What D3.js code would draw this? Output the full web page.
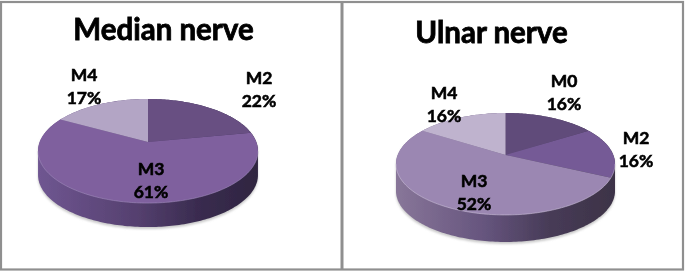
<!DOCTYPE html>
<html>
<head>
<meta charset="utf-8">
<script src="https://cdn.jsdelivr.net/npm/d3@7"></script>
<style>
  html, body { margin: 0; padding: 0; background: #fff; }
  text { font-family: Lato, sans-serif; font-weight: 700; fill: #000; stroke: #000; text-anchor: middle; }
</style>
</head>
<body>
<div id="chart"></div>
<script>
// Data
var medianCategories = ["M2", "M3", "M4"];
var medianValues = [22, 61, 17];
var ulnarCategories = ["M0", "M2", "M3", "M4"];
var ulnarValues = [16, 16, 52, 16];

// Colours
var medianColors = ["#674f82", "#7f609e", "#b3a5c5"];
var ulnarColors = ["#604b7a", "#745a96", "#9b87b2", "#bfb3ce"];

// Label centres
var medianLabelPos = [[259, 89], [151, 180], [84, 86]];
var ulnarLabelPos = [[564, 92], [636, 149], [474, 192], [444, 104]];

var svg = d3.select("#chart").append("svg")
    .attr("width", 685)
    .attr("height", 271)
    .style("display", "block");

var defs = svg.append("defs");

defs.append("filter").attr("id", "soft")
    .append("feGaussianBlur").attr("stdDeviation", 0.45);
defs.append("filter").attr("id", "softer")
    .append("feGaussianBlur").attr("stdDeviation", 1.2);

function sideGradient(id, stops) {
    var g = defs.append("linearGradient").attr("id", id);
    stops.forEach(function (s) {
        g.append("stop").attr("offset", s[0]).attr("stop-color", s[1]);
    });
}
sideGradient("sideMedian", [[0, "#6f5691"], [0.45, "#55406f"], [0.72, "#3a2c50"], [1, "#2f2540"]]);
sideGradient("sideUlnar", [[0, "#887699"], [0.4, "#66557e"], [0.7, "#473b57"], [1, "#3d3347"]]);

// Frame
var frame = svg.append("g").attr("fill", "none").attr("stroke", "#8f8f8f");
frame.append("rect").attr("x", 1).attr("y", 2).attr("width", 682).attr("height", 267.5).attr("stroke-width", 2.2);
frame.append("line").attr("x1", 342).attr("x2", 342).attr("y1", 2).attr("y2", 269).attr("stroke-width", 3);

// Pie tilted with a bit of perspective, apex sits above the ellipse centre
function drawPie(o) {
    var project = function (a) {
        var X = Math.sin(a), Y = -Math.cos(a), w = 1 + o.k * Y;
        return [o.cx + o.rx * X / w, o.cy + o.ry * Y / w];
    };
    var sample = function (a0, a1) {
        return d3.range(a0, a1, 0.02).concat([a1]).map(project);
    };
    var line = d3.line();
    var color = d3.scaleOrdinal().domain(o.categories).range(o.colors);
    var slices = d3.pie().sort(null)(o.values);

    var g = svg.append("g").attr("filter", "url(#soft)");

    var ring = sample(0, 2 * Math.PI);
    var lower = ring.map(function (p) { return [p[0], p[1] + o.depth]; });
    var hull = d3.polygonHull(ring.concat(lower));

    // soft shadow under the pie
    g.append("path")
        .attr("d", line(hull) + "Z")
        .attr("transform", "translate(0,2)")
        .attr("fill", "#c9c9c9")
        .attr("filter", "url(#softer)");

    g.append("path")
        .attr("d", line(hull) + "Z")
        .attr("fill", "url(#" + o.side + ")");

    g.selectAll("path.slice")
        .data(slices)
        .enter()
        .append("path")
        .attr("class", "slice")
        .attr("d", function (d) {
            return line([[o.cx, o.cy]].concat(sample(d.startAngle, d.endAngle))) + "Z";
        })
        .attr("fill", function (d, i) { return color(o.categories[i]); });

    // bevel on the front edge
    g.append("path")
        .attr("d", line(sample(1.75, 2 * Math.PI - 1.75)))
        .attr("fill", "none")
        .attr("stroke", o.bevel)
        .attr("stroke-width", 1)
        .attr("stroke-opacity", 0.55);

    var labels = svg.append("g").attr("filter", "url(#soft)");
    o.categories.forEach(function (c, i) {
        var t = labels.append("g").attr("transform", "translate(" + o.labelPos[i] + ")");
        t.append("text").attr("y", -5).attr("font-size", 17.5).attr("stroke-width", 0.55).text(c);
        t.append("text").attr("y", 18).attr("font-size", 17.5).attr("stroke-width", 0.55).text(o.values[i] + "%");
    });

    labels.append("text")
        .attr("x", o.titleX)
        .attr("y", o.titleY)
        .attr("font-size", 29.5)
        .attr("stroke-width", 0.8)
        .text(o.title);
}

drawPie({
    title: "Median nerve", titleX: 163.5, titleY: 40,
    categories: medianCategories, values: medianValues, colors: medianColors,
    labelPos: medianLabelPos, side: "sideMedian", bevel: "#a48fc0",
    cx: 148, cy: 142, rx: 108.3, ry: 50.5, k: -0.173, depth: 24
});

drawPie({
    title: "Ulnar nerve", titleX: 491.5, titleY: 43,
    categories: ulnarCategories, values: ulnarValues, colors: ulnarColors,
    labelPos: ulnarLabelPos, side: "sideUlnar", bevel: "#cfc4dc",
    cx: 505.5, cy: 155, rx: 107.8, ry: 49.4, k: -0.176, depth: 27
});
</script>
</body>
</html>
